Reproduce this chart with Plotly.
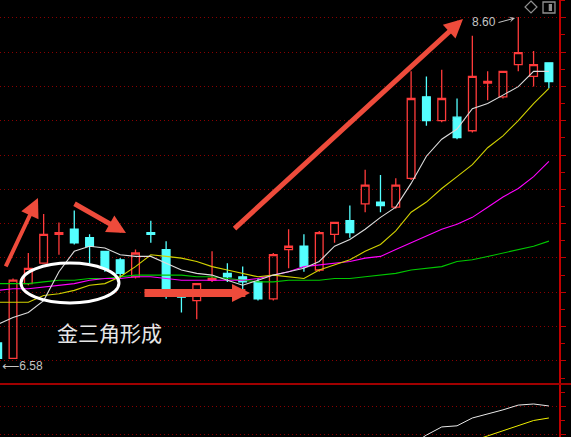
import plotly.graph_objects as go

# ---- daily bars (index, open, high, low, close) ----
idx = list(range(37))
opens = [6.68, 6.59, 7.03, 7.15, 7.32, 7.35, 7.30, 7.22, 7.17, 7.07, 7.33, 7.23, 6.96,
         6.93, 7.05, 7.09, 7.07, 7.04, 6.94, 7.23, 7.25, 7.11, 7.32, 7.40, 7.50, 7.51,
         7.48, 7.65, 8.13, 7.99, 8.01, 7.93, 8.21, 8.13, 8.32, 8.25, 8.33]
highs = [6.70, 7.06, 7.21, 7.44, 7.39, 7.46, 7.32, 7.22, 7.18, 7.23, 7.40, 7.28, 6.96,
         7.03, 7.22, 7.15, 7.13, 7.06, 7.21, 7.35, 7.32, 7.34, 7.39, 7.49, 7.70, 7.67,
         7.65, 8.28, 8.25, 8.29, 8.12, 8.49, 8.28, 8.28, 8.60, 8.40, 8.33]
lows = [6.58, 6.59, 7.02, 7.15, 7.20, 7.26, 7.15, 7.10, 7.06, 7.06, 7.27, 6.94, 6.86,
        6.82, 7.04, 7.04, 6.99, 6.93, 6.93, 7.12, 7.10, 7.10, 7.27, 7.30, 7.45, 7.45,
        7.47, 7.64, 7.96, 7.98, 7.88, 7.92, 8.11, 8.12, 8.28, 8.19, 8.18]
closes = [6.59, 7.05, 7.12, 7.32, 7.33, 7.27, 7.25, 7.12, 7.09, 7.21, 7.32, 6.96, 6.95,
          7.03, 7.06, 7.07, 7.04, 6.94, 7.20, 7.25, 7.13, 7.33, 7.39, 7.33, 7.61, 7.49,
          7.61, 8.12, 7.99, 8.12, 7.89, 8.25, 8.22, 8.28, 8.39, 8.32, 8.22]

# ---- moving averages ----
ma5 = [6.79, 6.83, 6.86, 6.93, 7.10, 7.22, 7.25, 7.24, 7.20, 7.19, 7.19, 7.15, 7.11,
       7.09, 7.08, 7.05, 7.02, 7.05, 7.08, 7.10, 7.12, 7.16, 7.25, 7.29, 7.35, 7.42,
       7.48, 7.62, 7.78, 7.88, 7.94, 8.06, 8.09, 8.14, 8.19, 8.28, 8.28]
ma10 = [6.92, 6.92, 6.92, 6.96, 6.97, 6.99, 7.02, 7.03, 7.07, 7.13, 7.20, 7.19, 7.18,
        7.16, 7.13, 7.11, 7.09, 7.07, 7.08, 7.07, 7.06, 7.11, 7.14, 7.17, 7.22, 7.26,
        7.34, 7.45, 7.51, 7.59, 7.66, 7.73, 7.83, 7.90, 7.99, 8.09, 8.18]
ma20 = [6.99, 7.00, 7.00, 7.01, 7.02, 7.03, 7.05, 7.06, 7.06, 7.07, 7.07, 7.06, 7.05,
        7.05, 7.05, 7.05, 7.05, 7.06, 7.08, 7.10, 7.13, 7.14, 7.15, 7.16, 7.18, 7.19,
        7.23, 7.27, 7.31, 7.35, 7.38, 7.42, 7.48, 7.54, 7.59, 7.66, 7.75]
ma60 = [7.03, 7.03, 7.03, 7.04, 7.05, 7.05, 7.06, 7.06, 7.07, 7.08, 7.08, 7.08, 7.08,
        7.07, 7.07, 7.06, 7.05, 7.04, 7.04, 7.05, 7.05, 7.05, 7.06, 7.06, 7.07, 7.08,
        7.09, 7.11, 7.12, 7.13, 7.16, 7.17, 7.19, 7.21, 7.23, 7.25, 7.28]

# ---- lower indicator panel ----
ind_fast = [None] * 25 + [-0.109, -0.073, -0.037, -0.002, 0.027, 0.031, 0.059, 0.073,
                          0.088, 0.105, 0.109, 0.102]
ind_slow = [None] * 30 + [-0.055, -0.023, -0.005, 0.013, 0.030, 0.050, 0.059]

# labels
high_label = "8.60"
low_label = '<span style="font-family:DejaVu Sans">\u27f5</span>6.58'
pattern_label = "金三角形成"

RED_AXIS = "#c00000"
GRID = "#8a0000"
ARROW = "#ee4b3b"
ICON = "#909090"

fig = go.Figure()

for vals, col in [(ma60, "#00c800"), (ma20, "#ff00ff"), (ma10, "#d2d200"), (ma5, "#dcdcdc")]:
    fig.add_trace(go.Scatter(x=idx, y=vals, mode="lines", line=dict(color=col, width=1.1),
                             hoverinfo="skip"))

fig.add_trace(go.Candlestick(
    x=idx, open=opens, high=highs, low=lows, close=closes,
    increasing=dict(line=dict(color="#ff3b3b", width=1.3), fillcolor="rgba(0,0,0,0)"),
    decreasing=dict(line=dict(color="#54ffff", width=1.3), fillcolor="#54ffff"),
    whiskerwidth=0, hoverinfo="skip"))

fig.add_trace(go.Scatter(x=idx, y=ind_fast, yaxis="y2", mode="lines",
                         line=dict(color="#e8e8e8", width=1), hoverinfo="skip"))
fig.add_trace(go.Scatter(x=idx, y=ind_slow, yaxis="y2", mode="lines",
                         line=dict(color="#f0f000", width=1), hoverinfo="skip"))

axis_common = dict(side="right", showline=True, linecolor=RED_AXIS, linewidth=1.5,
                   ticks="outside", ticklen=5, tickcolor=RED_AXIS, tickwidth=1,
                   showticklabels=False, tickmode="linear", showgrid=True,
                   gridcolor=GRID, griddash="1px,3px", gridwidth=1, zeroline=False,
                   fixedrange=True)

fig.update_layout(
    width=571, height=437,
    margin=dict(l=0, r=12, t=0, b=0),
    paper_bgcolor="black", plot_bgcolor="black",
    showlegend=False, boxgap=0.28,
    xaxis=dict(range=[0.15, 36.66], visible=False, anchor="y2",
               rangeslider=dict(visible=False), fixedrange=True),
    yaxis=dict(domain=[0.1236, 1], range=[6.4446, 8.7001], tick0=6.5742, dtick=0.20217,
               minor=dict(tick0=6.5742, dtick=0.101085, ticks="outside", ticklen=4,
                          tickcolor=RED_AXIS, showgrid=False),
               **axis_common),
    yaxis2=dict(domain=[0, 0.119], range=[-0.0089, 0.1768], tick0=0, dtick=0.1,
                minor=dict(tick0=0, dtick=0.05, ticks="outside", ticklen=4,
                           tickcolor=RED_AXIS, showgrid=False),
                **axis_common),
)

# panel separator
fig.add_shape(type="line", xref="paper", yref="paper", x0=0, x1=1.03, y0=0.1213, y1=0.1213,
              line=dict(color="#a00000", width=2))

# ellipse around the crossing moving averages
fig.add_shape(type="circle", xref="x", yref="y", x0=1.52, x1=7.92, y0=6.916, y1=7.151,
              line=dict(color="white", width=3))

# toolbar icons (diamond and panel toggle)
fig.add_shape(type="path", xref="paper", yref="paper",
              path="M 0.9499 0.99771 L 0.9606 0.98398 L 0.9499 0.97025 L 0.9392 0.98398 Z",
              line=dict(color=ICON, width=1.2))
fig.add_shape(type="rect", xref="paper", yref="paper", x0=0.9714, x1=0.9928,
              y0=0.9703, y1=0.9954, line=dict(color=ICON, width=1.3))
fig.add_shape(type="rect", xref="paper", yref="paper", x0=0.9816, x1=0.9875,
              y0=0.9748, y1=0.9908, line=dict(width=0), fillcolor=ICON)

# trend arrows
arrows = [
    dict(x=2.63, y=7.534, ax=0.48, ay=7.122, w=4, s=0.95),
    dict(x=8.38, y=7.328, ax=4.92, ay=7.505, w=5, s=0.75),
    dict(x=16.48, y=6.975, ax=9.49, ay=6.975, w=8, s=0.45),
    dict(x=30.39, y=8.588, ax=15.37, ay=7.346, w=5, s=0.75),
]
for a in arrows:
    fig.add_annotation(x=a["x"], y=a["y"], ax=a["ax"], ay=a["ay"], xref="x", yref="y",
                       axref="x", ayref="y", text="", showarrow=True, arrowhead=2,
                       arrowsize=a["s"], arrowwidth=a["w"], arrowcolor=ARROW, standoff=0)

# extreme price labels
fig.add_annotation(x=31.73, y=8.568, xref="x", yref="y", text=high_label, showarrow=False,
                   font=dict(color="#c4c4c4", size=12, family="Liberation Sans"))
fig.add_annotation(x=33.79, y=8.594, ax=32.61, ay=8.565, xref="x", yref="y", axref="x",
                   ayref="y", text="", showarrow=True, arrowhead=3, arrowsize=1,
                   arrowwidth=1, arrowcolor="#c4c4c4", standoff=0)
fig.add_annotation(x=0.15, y=6.545, xref="x", yref="y", text=low_label, showarrow=False,
                   xanchor="left", font=dict(color="#c4c4c4", size=12, family="Liberation Sans"))

fig.add_annotation(x=7.33, y=6.745, xref="x", yref="y", text=pattern_label, showarrow=False,
                   font=dict(color="#e6e6e6", size=21, family="Noto Sans CJK SC"))

fig.write_html("out.html", config=dict(displayModeBar=False))
